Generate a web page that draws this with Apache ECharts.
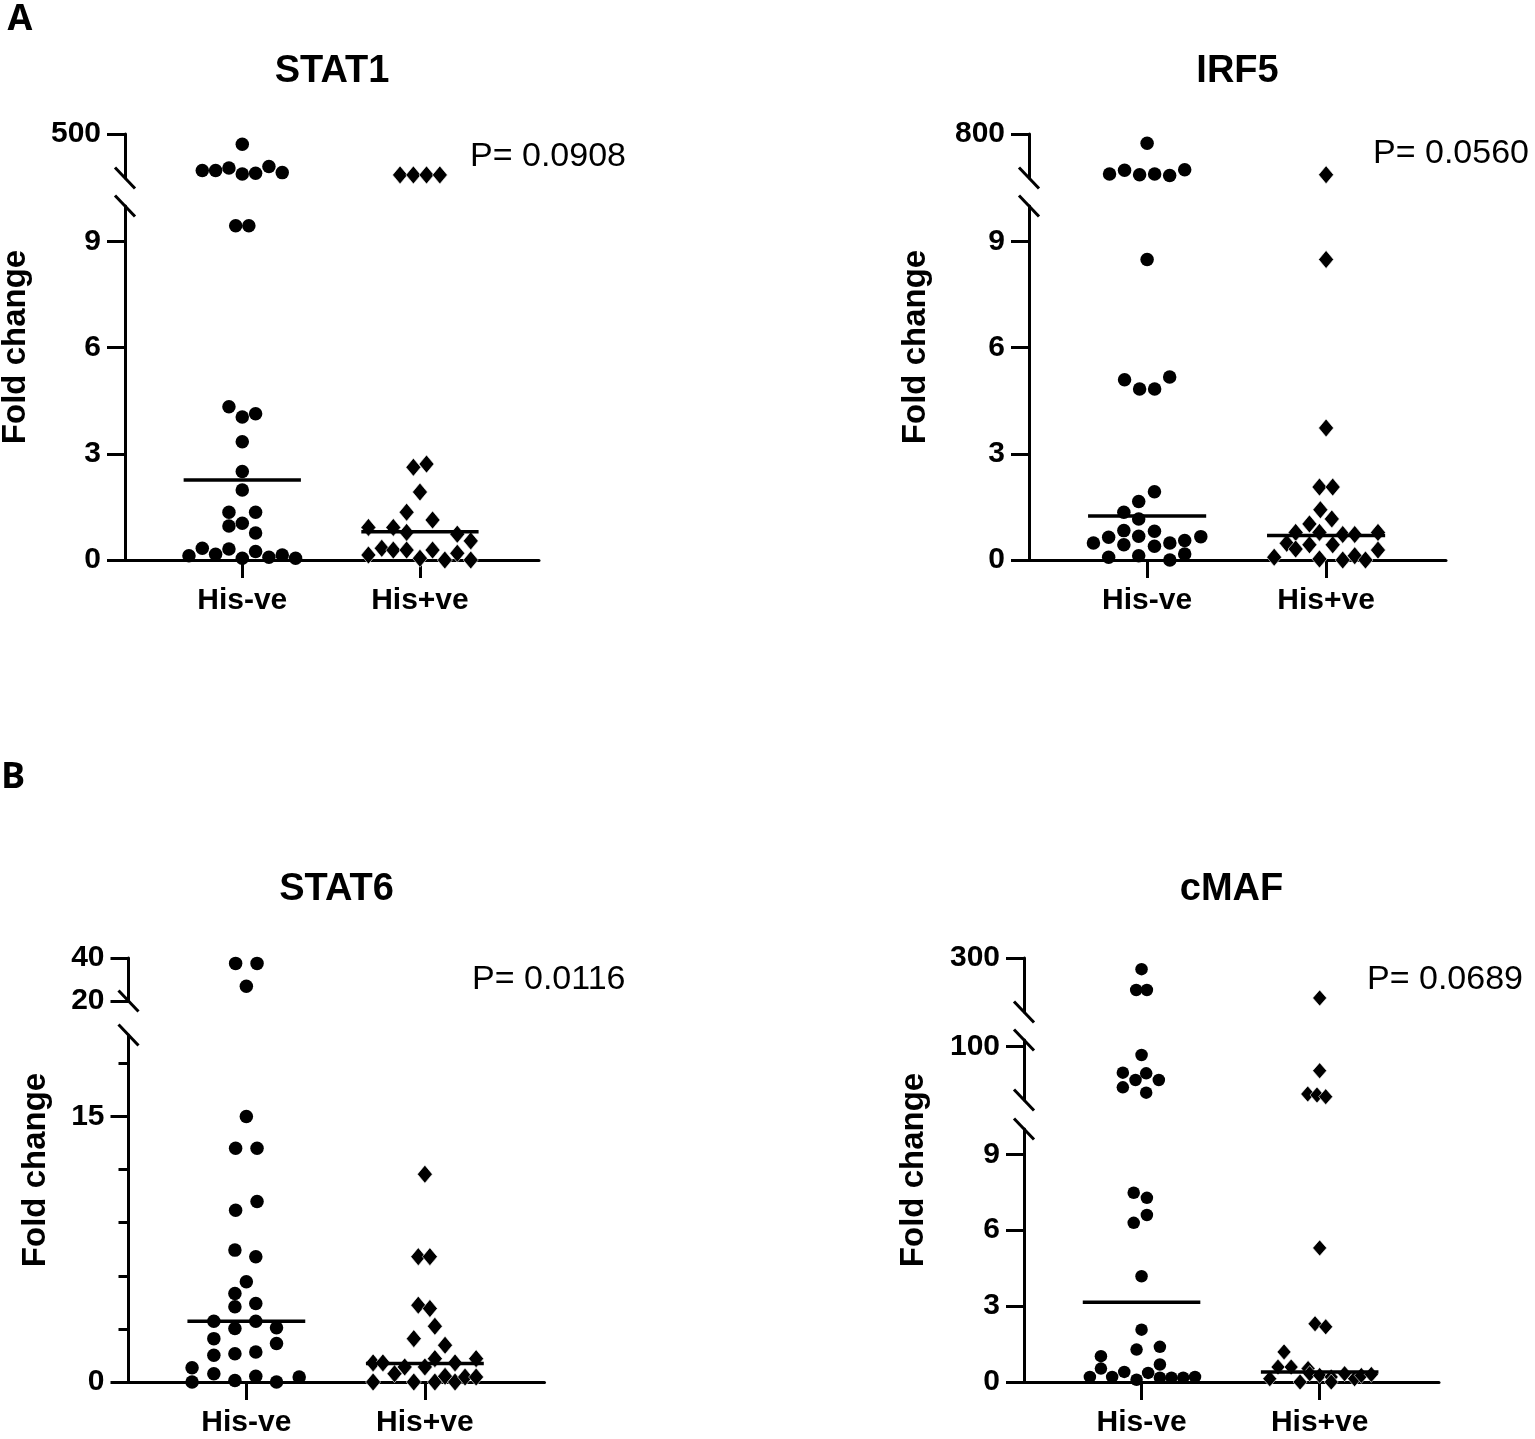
<!DOCTYPE html>
<html>
<head>
<meta charset="utf-8">
<title>Fold change - His-ve vs His+ve</title>
<script src="https://cdn.jsdelivr.net/npm/echarts@6/dist/echarts.min.js"></script>
<style>
html, body { margin: 0; padding: 0; background: #fff; }
#chart { width: 1535px; height: 1439px; }
</style>
</head>
<body>
<div id="chart"></div>
<script>
// groups on the x axis (1 = His-ve, 2 = His+ve)
var groups = ['His-ve', 'His+ve'];
var titles = ['STAT1', 'IRF5', 'STAT6', 'cMAF'];
var pTexts = ['P= 0.0908', 'P= 0.0560', 'P= 0.0116', 'P= 0.0689'];

// points are [horizontal spread inside the column, fold change]
var stat1Neg = [[0, 407], [-0.225, 168], [-0.15, 168], [-0.075, 190], [0, 137], [0.075, 144], [0.15, 205], [0.225, 149],
    [-0.037, 9.44], [0.037, 9.44], [-0.075, 4.33], [0, 4.04], [0.075, 4.13], [0, 3.34], [0, 2.5], [0, 1.98],
    [-0.075, 1.35], [0.075, 1.35], [-0.075, 0.96], [0, 1.04], [0.075, 0.76], [-0.225, 0.33], [-0.075, 0.31],
    [0.075, 0.24], [-0.3, 0.12], [-0.15, 0.16], [0, 0.05], [0.15, 0.08], [0.225, 0.14], [0.3, 0.05]];
var stat1Pos = [[-0.112, 128], [-0.037, 128], [0.037, 128], [0.112, 128],
    [-0.037, 2.62], [0.037, 2.71], [0, 1.92], [-0.075, 1.35], [0.071, 1.13], [-0.29, 0.92], [-0.15, 0.92],
    [-0.075, 0.78], [0.21, 0.73], [0.286, 0.54], [-0.215, 0.33], [-0.15, 0.28], [-0.075, 0.28], [0.071, 0.28],
    [0.21, 0.19], [-0.29, 0.14], [0, 0.05], [0.14, 0], [0.286, 0]];
var stat1Median = [2.26, 0.8];
var stat1Ranges = [[100, 500], [0, 10]];
var stat1Labels = [[500], [0, 3, 6, 9]];

var irf5Neg = [[0, 674], [-0.21, 254], [-0.126, 307], [-0.042, 244], [0.042, 254], [0.126, 235], [0.21, 313],
    [0, 8.49], [-0.126, 5.09], [-0.042, 4.83], [0.042, 4.83], [0.126, 5.17], [0.041, 1.93], [-0.047, 1.65],
    [-0.13, 1.35], [-0.047, 1.16], [-0.13, 0.83], [-0.047, 0.67], [0.041, 0.81], [-0.3, 0.48], [-0.215, 0.64],
    [-0.13, 0.43], [0.041, 0.39], [0.127, 0.48], [0.21, 0.55], [0.3, 0.66], [-0.215, 0.08], [-0.047, 0.12],
    [0.127, 0], [0.21, 0.17]];
var irf5Pos = [[0, 244],
    [0, 8.49], [0, 3.73], [-0.037, 2.06], [0.037, 2.06], [-0.032, 1.42], [0.032, 1.16], [-0.093, 1.02],
    [-0.17, 0.78], [-0.037, 0.78], [0.093, 0.72], [0.16, 0.72], [0.29, 0.78], [-0.22, 0.47], [-0.17, 0.31],
    [-0.093, 0.43], [0.037, 0.43], [0.29, 0.28], [-0.29, 0.08], [-0.037, 0.03], [0.093, 0], [0.16, 0.12], [0.22, 0]];
var irf5Median = [1.24, 0.69];
var irf5Ranges = [[200, 800], [0, 10]];
var irf5Labels = [[800], [0, 3, 6, 9]];

var stat6Neg = [[-0.06, 37.5], [0.06, 37.5], [0, 26.9],
    [0, 15], [-0.06, 13.2], [0.06, 13.2], [0.06, 10.2], [-0.06, 9.7], [-0.064, 7.45], [0.053, 7.08], [0, 5.66],
    [-0.064, 5], [-0.064, 4.25], [0.053, 4.43], [-0.182, 3.43], [-0.064, 3.02], [0.053, 3.43], [0.169, 3.07],
    [-0.182, 2.45], [0.169, 2.17], [-0.182, 1.51], [-0.064, 1.6], [0.053, 1.7], [-0.304, 0.81], [-0.182, 0.47],
    [-0.304, 0], [-0.064, 0.09], [0.053, 0.32], [0.169, 0], [0.296, 0.28]];
var stat6Pos = [[0, 11.74], [-0.037, 7.08], [0.028, 7.08], [-0.037, 4.34], [0.028, 4.15], [0.056, 3.15],
    [-0.062, 2.45], [0.113, 2.08], [-0.29, 1.08], [-0.235, 1.08], [-0.17, 0.47], [-0.113, 0.85], [0, 0.85],
    [0.056, 1.32], [0.169, 1.08], [0.287, 1.32], [-0.29, 0], [-0.062, 0], [0.056, 0], [0.113, 0.32],
    [0.169, 0], [0.225, 0.28], [0.287, 0.28]];
var stat6Median = [3.43, 1.04];
var stat6Ranges = [[20, 40], [0, 19.6]];
var stat6Labels = [[40, 20], [0, 15]];
var stat6Minor = [[], [3, 6, 9, 12, 18]];

var cmafNeg = [[0, 269], [-0.03, 211], [0.03, 211],
    [0, 87.5], [-0.105, 61], [0.026, 60], [-0.034, 50], [0.097, 50], [-0.105, 39], [0.026, 31],
    [-0.044, 7.48], [0.03, 7.28], [-0.044, 6.29], [0.03, 6.6], [0, 4.18], [0, 2.07], [-0.028, 1.28],
    [0.103, 1.39], [-0.228, 1.02], [0.103, 0.69], [-0.228, 0.53], [-0.29, 0.2], [-0.165, 0.2], [-0.097, 0.4],
    [-0.028, 0.09], [0.037, 0.36], [0.103, 0.17], [0.168, 0.17], [0.234, 0.17], [0.3, 0.2]];
var cmafPos = [[0, 189],
    [0, 64], [-0.067, 29], [-0.015, 27.5], [0.034, 25],
    [0, 5.3], [-0.026, 2.3], [0.034, 2.18], [-0.2, 1.19], [-0.234, 0.59], [-0.16, 0.59], [-0.065, 0.53],
    [-0.28, 0.13], [-0.11, 0], [-0.056, 0.33], [0, 0.26], [0.065, 0.2], [0.065, 0], [0.14, 0.33],
    [0.196, 0.13], [0.234, 0.26], [0.29, 0.3]];
var cmafMedian = [3.15, 0.4];
var cmafRanges = [[150, 300], [20, 110], [0, 10]];
var cmafLabels = [[300], [100], [0, 3, 6, 9]];

var FONT = '"Liberation Sans", Arial, Helvetica, sans-serif';
var BLACK = '#000';

// layout of each panel (px): y axis x, plot width, segment top/bottom, text spots
var panels = [
    {neg: stat1Neg, pos: stat1Pos, med: stat1Median, ranges: stat1Ranges, labels: stat1Labels,
     left: 125, width: 414, segs: [[134, 178], [206, 560]], titleY: 72, pX: 470, pY: 157, nameX: 16, dot: 13.5, dia: [15, 18]},
    {neg: irf5Neg, pos: irf5Pos, med: irf5Median, ranges: irf5Ranges, labels: irf5Labels,
     left: 1029, width: 417, segs: [[134, 178], [206, 560]], titleY: 72, pX: 1373, pY: 154, nameX: 916, dot: 13.5, dia: [15, 18]},
    {neg: stat6Neg, pos: stat6Pos, med: stat6Median, ranges: stat6Ranges, labels: stat6Labels, minor: stat6Minor,
     left: 128.5, width: 416, segs: [[958, 1001], [1035, 1382]], titleY: 890, pX: 472, pY: 980, nameX: 36, dot: 13.5, dia: [15, 18]},
    {neg: cmafNeg, pos: cmafPos, med: cmafMedian, ranges: cmafRanges, labels: cmafLabels,
     left: 1024, width: 415, segs: [[958, 1012], [1040, 1100], [1129, 1382]], titleY: 890, pX: 1367, pY: 980, nameX: 914, dot: 12.5, dia: [14, 16]}
];

var grids = [], xAxes = [], yAxes = [], series = [], graphics = [];
var axisLine = {color: BLACK, width: 3};

function inRange(pts, r, group) {
    return pts.filter(function (d) { return d[1] >= r[0] && d[1] <= r[1]; })
        .map(function (d) { return [group + d[0], d[1]]; });
}

panels.forEach(function (p, pi) {
    var n = p.segs.length;
    p.segs.forEach(function (s, si) {
        var last = si === n - 1;
        var gi = grids.length;
        var r = p.ranges[si];
        grids.push({left: p.left, width: p.width, top: s[0], height: s[1] - s[0], outerBoundsMode: 'none'});
        xAxes.push({
            type: 'value', gridIndex: gi, min: 0.34, max: 2.67, show: last,
            axisLine: {show: true, onZero: false, lineStyle: axisLine},
            axisTick: {show: true, customValues: [1, 2], length: 18, lineStyle: axisLine},
            axisLabel: {customValues: [1, 2], margin: 26, color: BLACK, fontSize: 30, fontWeight: 'bold', fontFamily: FONT,
                formatter: function (v) { return groups[Math.round(v) - 1]; }},
            splitLine: {show: false}
        });
        var yi = yAxes.length;
        var majors = p.labels[si];
        yAxes.push({
            type: 'value', gridIndex: gi, position: 'left', min: r[0], max: r[1],
            axisLine: {show: true, onZero: false, lineStyle: axisLine},
            axisTick: {show: true, customValues: majors, length: 18, lineStyle: axisLine},
            axisLabel: {customValues: majors, margin: 24, color: BLACK, fontWeight: 'bold', fontFamily: FONT,
                fontSize: 30},
            splitLine: {show: false}
        });
        if (p.minor && p.minor[si].length) {
            yAxes.push({
                type: 'value', gridIndex: gi, position: 'left', min: r[0], max: r[1],
                axisLine: {show: false},
                axisTick: {show: true, customValues: p.minor[si], length: 10, lineStyle: axisLine},
                axisLabel: {show: false}, splitLine: {show: false}
            });
        }
        series.push({
            type: 'scatter', xAxisIndex: gi, yAxisIndex: yi, symbol: 'circle', symbolSize: p.dot,
            itemStyle: {color: BLACK, opacity: 1}, data: inRange(p.neg, r, 1), silent: true
        });
        series.push({
            type: 'scatter', xAxisIndex: gi, yAxisIndex: yi, symbol: 'diamond', symbolSize: p.dia,
            itemStyle: {color: BLACK, opacity: 1, borderColor: '#fff', borderWidth: 0.6}, data: inRange(p.pos, r, 2), silent: true
        });
        if (last) {
            p.med.forEach(function (m, k) {
                series.push({
                    type: 'line', xAxisIndex: gi, yAxisIndex: yi, symbol: 'none', silent: true, z: 3,
                    lineStyle: {color: BLACK, width: 3.5},
                    data: [[k + 1 - 0.33, m], [k + 1 + 0.33, m]]
                });
            });
        }
        // break marks between segments
        if (!last) {
            var next = p.segs[si + 1];
            [s[1], next[0]].forEach(function (y) {
                graphics.push({type: 'line', silent: true,
                    shape: {x1: p.left - 10, y1: y - 10.5, x2: p.left + 10, y2: y + 10.5},
                    style: {stroke: BLACK, lineWidth: 3}});
            });
        }
    });

    var top = p.segs[0][0], bottom = p.segs[n - 1][1];
    graphics.push({type: 'text', x: p.left + p.width / 2, y: p.titleY, silent: true,
        style: {text: titles[pi], fill: BLACK, font: 'bold 38px ' + FONT, align: 'center', verticalAlign: 'middle'}});
    graphics.push({type: 'text', x: p.pX, y: p.pY, silent: true,
        style: {text: pTexts[pi], fill: BLACK, font: '34px ' + FONT, align: 'left', verticalAlign: 'middle'}});
    graphics.push({type: 'text', x: p.nameX, y: (top + bottom) / 2, rotation: Math.PI / 2, silent: true,
        style: {text: 'Fold change', fill: BLACK, font: 'bold 33px ' + FONT, align: 'center', verticalAlign: 'middle'}});
});

// panel letters
graphics.push({type: 'text', x: 20, y: 20, silent: true,
    style: {text: 'A', fill: BLACK, font: 'bold 36px "Open Sans", ' + FONT, align: 'center', verticalAlign: 'middle'}});
graphics.push({type: 'text', x: 13, y: 778, silent: true,
    style: {text: 'B', fill: BLACK, font: 'bold 36px "Open Sans", ' + FONT, align: 'center', verticalAlign: 'middle'}});

var myChart = echarts.init(document.getElementById('chart'));
myChart.setOption({
    backgroundColor: '#fff',
    animation: false,
    grid: grids,
    xAxis: xAxes,
    yAxis: yAxes,
    series: series,
    graphic: {elements: graphics}
});
</script>
</body>
</html>
